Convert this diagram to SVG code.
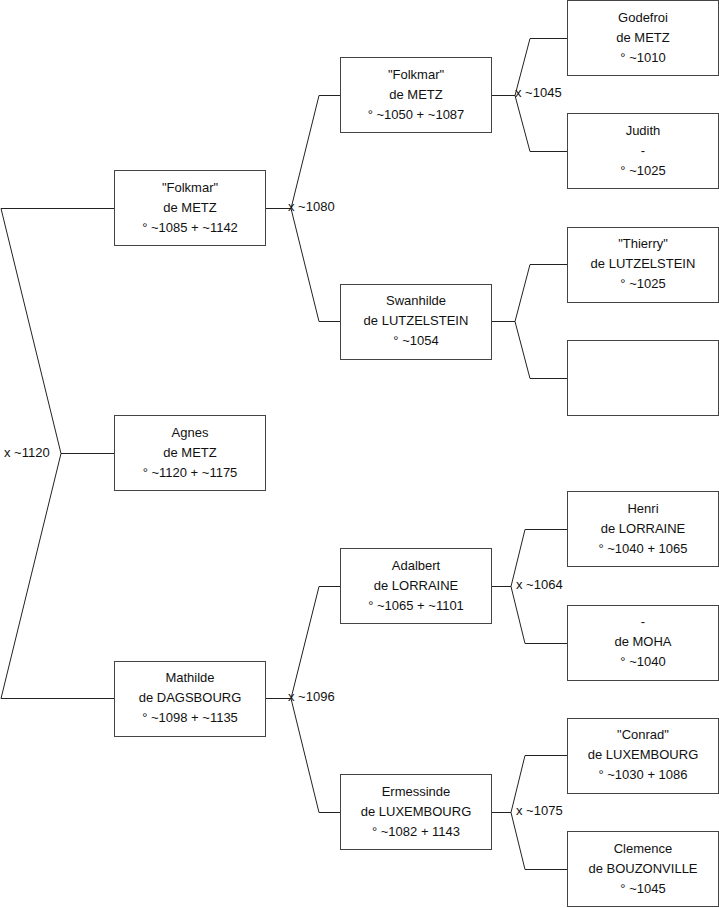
<svg xmlns="http://www.w3.org/2000/svg" width="719" height="908" viewBox="0 0 719 908">
<style>
.box{fill:#fff;stroke:#444;stroke-width:1}
.ln{fill:none;stroke:#222;stroke-width:1}
text{font-family:"Liberation Sans",Arial,sans-serif;font-size:13px;fill:#111}
.c{text-anchor:middle}
</style>
<rect width="719" height="908" fill="#fff"/>
<g id="connectors">
<polyline class="ln" points="114,208.5 1,208.5 61,453.5 1,698.5 114,698.5"/>
<line class="ln" x1="61" y1="453.5" x2="114" y2="453.5"/>
<polyline class="ln" points="265,208.5 291,208.5"/>
<polyline class="ln" points="340,95.5 319,95.5 291,208.5 319,321.5 340,321.5"/>
<polyline class="ln" points="265,698.5 291,698.5"/>
<polyline class="ln" points="340,586.5 319,586.5 291,698.5 319,812.5 340,812.5"/>
<polyline class="ln" points="491,95.5 515,95.5"/>
<polyline class="ln" points="567,38.5 530,38.5 515,95.5 530,151.5 567,151.5"/>
<polyline class="ln" points="491,321.5 515,321.5"/>
<polyline class="ln" points="567,264.5 530,264.5 515,321.5 530,378.5 567,378.5"/>
<polyline class="ln" points="491,586.5 511,586.5"/>
<polyline class="ln" points="567,529.5 525,529.5 511,586.5 525,643.5 567,643.5"/>
<polyline class="ln" points="491,812.5 511,812.5"/>
<polyline class="ln" points="567,755.5 525,755.5 511,812.5 525,869.5 567,869.5"/>
<text x="4" y="457">x ~1120</text>
<text x="288" y="211">x ~1080</text>
<text x="288" y="701">x ~1096</text>
<text x="515" y="97">x ~1045</text>
<text x="516" y="589">x ~1064</text>
<text x="516" y="815">x ~1075</text>
</g>
<g id="n1"><rect class="box" x="114.5" y="170.5" width="151" height="75"/>
<text class="c" x="190" y="191.5">"Folkmar"</text><text class="c" x="190" y="211.5">de METZ</text><text class="c" x="190" y="231.5">° ~1085 + ~1142</text></g>
<g id="n2"><rect class="box" x="114.5" y="415.5" width="151" height="75"/>
<text class="c" x="190" y="436.5">Agnes</text><text class="c" x="190" y="456.5">de METZ</text><text class="c" x="190" y="476.5">° ~1120 + ~1175</text></g>
<g id="n3"><rect class="box" x="114.5" y="661.5" width="151" height="75"/>
<text class="c" x="190" y="682">Mathilde</text><text class="c" x="190" y="702">de DAGSBOURG</text><text class="c" x="190" y="722">° ~1098 + ~1135</text></g>
<g id="n4"><rect class="box" x="340.5" y="57.5" width="151" height="75"/>
<text class="c" x="416" y="78.5">"Folkmar"</text><text class="c" x="416" y="98.5">de METZ</text><text class="c" x="416" y="118.5">° ~1050 + ~1087</text></g>
<g id="n5"><rect class="box" x="340.5" y="284.5" width="151" height="75"/>
<text class="c" x="416" y="305">Swanhilde</text><text class="c" x="416" y="325">de LUTZELSTEIN</text><text class="c" x="416" y="345">° ~1054</text></g>
<g id="n6"><rect class="box" x="340.5" y="548.5" width="151" height="75"/>
<text class="c" x="416" y="569.5">Adalbert</text><text class="c" x="416" y="589.5">de LORRAINE</text><text class="c" x="416" y="609.5">° ~1065 + ~1101</text></g>
<g id="n7"><rect class="box" x="340.5" y="774.5" width="151" height="75"/>
<text class="c" x="416" y="795.5">Ermessinde</text><text class="c" x="416" y="815.5">de LUXEMBOURG</text><text class="c" x="416" y="835.5">° ~1082 + 1143</text></g>
<g id="n8"><rect class="box" x="567.5" y="0.5" width="151" height="75"/>
<text class="c" x="643" y="21.5">Godefroi</text><text class="c" x="643" y="41.5">de METZ</text><text class="c" x="643" y="61.5">° ~1010</text></g>
<g id="n9"><rect class="box" x="567.5" y="113.5" width="151" height="75"/>
<text class="c" x="643" y="134.5">Judith</text><text class="c" x="643" y="154.5">-</text><text class="c" x="643" y="174.5">° ~1025</text></g>
<g id="n10"><rect class="box" x="567.5" y="227.5" width="151" height="75"/>
<text class="c" x="643" y="248">"Thierry"</text><text class="c" x="643" y="268">de LUTZELSTEIN</text><text class="c" x="643" y="288">° ~1025</text></g>
<g id="n11"><rect class="box" x="567.5" y="340.5" width="151" height="75"/></g>
<g id="n12"><rect class="box" x="567.5" y="491.5" width="151" height="75"/>
<text class="c" x="643" y="512.5">Henri</text><text class="c" x="643" y="532.5">de LORRAINE</text><text class="c" x="643" y="552.5">° ~1040 + 1065</text></g>
<g id="n13"><rect class="box" x="567.5" y="605.5" width="151" height="75"/>
<text class="c" x="643" y="626">-</text><text class="c" x="643" y="646">de MOHA</text><text class="c" x="643" y="666">° ~1040</text></g>
<g id="n14"><rect class="box" x="567.5" y="718.5" width="151" height="75"/>
<text class="c" x="643" y="739">"Conrad"</text><text class="c" x="643" y="759">de LUXEMBOURG</text><text class="c" x="643" y="779">° ~1030 + 1086</text></g>
<g id="n15"><rect class="box" x="567.5" y="831.5" width="151" height="75"/>
<text class="c" x="643" y="852.5">Clemence</text><text class="c" x="643" y="872.5">de BOUZONVILLE</text><text class="c" x="643" y="892.5">° ~1045</text></g>
</svg>
